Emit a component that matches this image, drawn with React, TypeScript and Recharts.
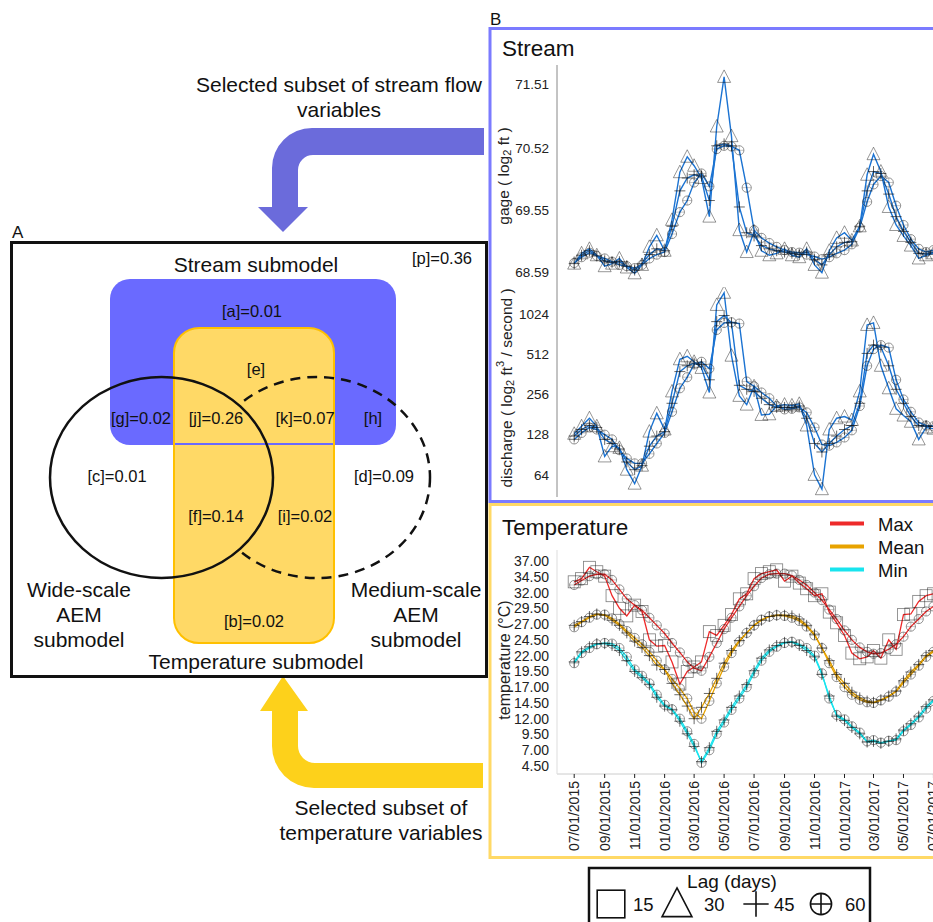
import React from "react";
import { ComposedChart, Line, XAxis, YAxis } from "recharts";

const FONT = '"Liberation Sans", Arial, Helvetica, sans-serif';

// semi-monthly sampling dates
const sampleDates = [
  "07/01/2015", "07/16/2015", "08/01/2015", "08/16/2015", "09/01/2015", "09/16/2015",
  "10/01/2015", "10/16/2015", "11/01/2015", "11/16/2015", "12/01/2015", "12/16/2015",
  "01/01/2016", "01/16/2016", "02/01/2016", "02/16/2016", "03/01/2016", "03/16/2016",
  "04/01/2016", "04/16/2016", "05/01/2016", "05/16/2016", "06/01/2016", "06/16/2016",
  "07/01/2016", "07/16/2016", "08/01/2016", "08/16/2016", "09/01/2016", "09/16/2016",
  "10/01/2016", "10/16/2016", "11/01/2016", "11/16/2016", "12/01/2016", "12/16/2016",
  "01/01/2017", "01/16/2017", "02/01/2017", "02/16/2017", "03/01/2017", "03/16/2017",
  "04/01/2017", "04/16/2017", "05/01/2017", "05/16/2017", "06/01/2017", "06/16/2017",
  "07/01/2017",
];

const dateTicks = [
  "07/01/2015", "09/01/2015", "11/01/2015", "01/01/2016", "03/01/2016", "05/01/2016",
  "07/01/2016", "09/01/2016", "11/01/2016", "01/01/2017", "03/01/2017", "05/01/2017",
  "07/01/2017",
];

// gage (log2 ft)
const gageLag30 = [
  68.72, 68.88, 68.95, 68.85, 68.68, 68.72, 68.8, 68.66, 68.57, 68.7, 68.98, 69.16,
  68.92, 69.4, 70.14, 70.38, 70.24, 70.05, 69.45, 70.85, 71.62, 70.7, 69.24, 68.9,
  69.22, 68.92, 68.85, 68.88, 68.95, 68.85, 68.82, 68.95, 68.7, 68.58, 68.92, 69.12,
  69.2, 69.08, 69.3, 70.1, 70.42, 70.15, 69.6, 69.32, 69.15, 69.0, 68.8, 68.85, 68.88,
];
const gageLag45 = [
  68.72, 68.85, 68.92, 68.84, 68.76, 68.74, 68.75, 68.68, 68.62, 68.72, 68.86, 68.95,
  68.92, 69.3, 69.85, 70.05, 70.1, 70.08, 69.7, 70.55, 70.58, 70.55, 69.6, 69.2,
  69.15, 69.0, 68.95, 68.92, 68.9, 68.88, 68.86, 68.9, 68.78, 68.7, 68.86, 68.98,
  69.05, 69.06, 69.3, 69.85, 70.15, 70.12, 69.8, 69.45, 69.22, 69.05, 68.88, 68.87, 68.9,
];
const gageLag60 = [
  68.73, 68.82, 68.89, 68.84, 68.8, 68.75, 68.7, 68.68, 68.65, 68.7, 68.8, 68.86,
  68.9, 69.18, 69.52, 69.7, 69.98, 70.12, 69.92, 70.5, 70.55, 70.54, 70.48, 69.9,
  69.24, 69.12, 69.04, 68.98, 68.93, 68.9, 68.89, 68.86, 68.83, 68.79, 68.82, 68.88,
  68.93, 69.02, 69.28, 69.68, 69.95, 70.08, 69.98, 69.62, 69.32, 69.1, 68.95, 68.9, 68.93,
];

// discharge (ft3 / second, log2 axis)
const dischargeLag30 = [
  130, 148, 170, 148, 88, 105, 102, 70, 55, 75, 135, 185,
  140, 270, 470, 495, 450, 405, 265, 1200, 1480, 500, 250, 215,
  295, 180, 182, 210, 215, 212, 218, 150, 64, 50, 140, 170,
  175, 165, 270, 850, 880, 420, 285, 200, 178, 160, 118, 145, 142,
];
const dischargeLag45 = [
  125, 140, 150, 145, 118, 110, 100, 80, 70, 75, 105, 125,
  135, 220, 380, 420, 440, 430, 330, 900, 1000, 880, 300, 280,
  270, 240, 215, 205, 205, 205, 210, 170, 110, 95, 110, 125,
  140, 150, 220, 520, 600, 580, 420, 280, 220, 175, 150, 148, 148,
];
const dischargeLag60 = [
  118, 132, 145, 140, 128, 118, 98, 85, 78, 78, 92, 110,
  132, 190, 285, 345, 430, 450, 400, 780, 880, 890, 870, 320,
  295, 265, 240, 210, 198, 200, 205, 188, 145, 108, 106, 112,
  122, 138, 210, 420, 560, 600, 575, 330, 235, 190, 158, 150, 148,
];

// temperature (°C)
const maxLag15 = [
  33.7, 34.2, 36.0, 35.3, 34.6, 31.5, 29.5, 28.3, 30.0, 29.0, 24.5, 23.5,
  23.6, 21.0, 17.5, 19.5, 20.2, 21.0, 25.8, 25.2, 26.8, 28.5, 31.0, 31.8,
  34.2, 35.0, 35.3, 35.6, 33.8, 34.6, 33.5, 32.6, 31.5, 31.8, 28.9, 27.2,
  25.2, 22.4, 21.5, 21.8, 22.8, 21.6, 24.5, 23.0, 28.5, 28.6, 30.6, 31.5, 31.8,
];
const maxLag60 = [
  33.2, 33.9, 34.6, 34.9, 34.9, 34.0, 32.5, 31.0, 30.0, 29.2, 28.0, 26.8,
  25.5, 24.0, 22.5, 21.0, 20.0, 19.6, 21.8, 24.0, 26.2, 28.0, 29.8, 31.5,
  33.0, 34.3, 34.9, 35.0, 35.0, 34.7, 34.0, 33.2, 32.0, 30.8, 29.3, 27.8,
  26.0, 24.5, 23.3, 22.6, 22.3, 22.4, 23.0, 23.8, 25.0, 26.6, 27.8, 29.0, 29.8,
];
const meanLag45 = [
  26.8, 27.4, 28.2, 28.6, 28.4, 27.6, 26.8, 25.6, 24.3, 23.3, 22.0, 20.5,
  19.8, 17.6, 15.8, 14.0, 12.0, 13.8, 16.0, 18.4, 20.8, 22.8, 24.4, 25.6,
  26.8, 27.6, 28.2, 28.4, 28.4, 28.3, 27.8, 26.8, 25.4, 23.2, 21.2, 19.0,
  17.6, 16.2, 15.3, 14.8, 14.6, 15.0, 15.6, 16.4, 18.0, 19.4, 20.6, 22.0, 22.8,
];
const meanLag60 = [
  26.5, 27.3, 28.0, 28.5, 28.5, 27.9, 27.0, 25.9, 24.8, 23.8, 22.6, 21.2,
  19.8, 18.3, 16.8, 15.2, 13.0, 12.0, 14.8, 17.6, 20.2, 22.4, 24.2, 25.6,
  26.8, 27.7, 28.2, 28.4, 28.3, 28.0, 27.5, 26.6, 25.2, 23.2, 20.8, 18.6,
  17.0, 15.8, 15.0, 14.6, 14.5, 14.9, 15.5, 16.3, 17.7, 19.0, 20.4, 21.8, 22.6,
];
const minLag45 = [
  21.0, 22.6, 23.4, 23.9, 23.9, 23.6, 22.8, 21.2, 19.5, 18.5, 17.4, 15.4,
  14.0, 13.4, 11.6, 9.6, 7.6, 5.2, 7.4, 10.0, 11.8, 13.8, 15.6, 17.4,
  19.6, 21.6, 22.9, 23.6, 24.1, 24.1, 23.6, 22.8, 21.8, 19.0, 15.6, 12.4,
  11.7, 10.6, 9.6, 8.3, 8.4, 8.1, 8.4, 8.8, 10.2, 11.2, 12.4, 13.9, 15.0,
];
const minLag60 = [
  20.8, 22.4, 23.2, 23.8, 24.0, 23.9, 23.2, 21.8, 19.8, 18.8, 17.6, 15.8,
  14.2, 13.5, 12.0, 10.0, 8.0, 5.0, 7.0, 9.6, 11.4, 13.4, 15.2, 17.0,
  19.2, 21.2, 22.6, 23.4, 24.0, 24.2, 23.8, 23.2, 22.0, 19.2, 15.2, 12.6,
  11.9, 10.8, 9.8, 8.4, 8.6, 8.2, 8.5, 8.6, 10.0, 11.0, 12.2, 13.6, 14.8,
];

const gageTicks = [68.59, 69.55, 70.52, 71.51];
const dischargeTicks = [64, 128, 256, 512, 1024];
const tempTicks = [4.5, 7, 9.5, 12, 14.5, 17, 19.5, 22, 24.5, 27, 29.5, 32, 34.5, 37];

// variance partition (panel A)
const partNames = ["a", "b", "c", "d", "e", "f", "g", "h", "i", "j", "k", "p"];
const partValues = [0.01, 0.02, 0.01, 0.09, null, 0.14, 0.02, null, 0.02, 0.26, 0.07, 0.36];

const lagDays = [15, 30, 45, 60];
const tempGroups = ["Max", "Mean", "Min"];

const DAY = 86400000;
const parseDate = (s: string) => {
  const [m, d, y] = s.split("/").map(Number);
  return Date.UTC(y, m - 1, d);
};
const origin = parseDate(sampleDates[0]);
const toDay = (s: string) => Math.round((parseDate(s) - origin) / DAY);

const streamRows = sampleDates.map((d, i) => ({
  day: toDay(d),
  g30: gageLag30[i], g45: gageLag45[i], g60: gageLag60[i],
  q30: dischargeLag30[i], q45: dischargeLag45[i], q60: dischargeLag60[i],
}));
const tempRows = sampleDates.map((d, i) => ({
  day: toDay(d),
  max15: maxLag15[i], max60: maxLag60[i],
  mean45: meanLag45[i], mean60: meanLag60[i],
  min45: minLag45[i], min60: minLag60[i],
}));
const tickDays = dateTicks.map(toDay);
const xDomain = [-35, 785];

const BLUE = "#1b73d2";
const RED = "#ee2a2a";
const ORANGE = "#e8a300";
const CYAN = "#18e4ee";

type Kind = "square" | "triangle" | "plus" | "circle";

function Marker({ cx, cy, kind, big }: { cx: number; cy: number; kind: Kind; big?: boolean }) {
  if (cx == null || cy == null) return null;
  const k = big ? 2.3 : 1;
  const st = { fill: "none", stroke: "#111", strokeOpacity: big ? 1 : 0.55, strokeWidth: big ? 1.6 : 0.8 };
  if (kind === "square")
    return <rect x={cx - 6 * k} y={cy - 6 * k} width={12 * k} height={12 * k} {...st} />;
  if (kind === "triangle")
    return <path d={`M${cx},${cy - 7 * k}L${cx + 6.5 * k},${cy + 5.5 * k}L${cx - 6.5 * k},${cy + 5.5 * k}Z`} {...st} />;
  if (kind === "plus")
    return <path d={`M${cx - 5.5 * k},${cy}H${cx + 5.5 * k}M${cx},${cy - 5.5 * k}V${cy + 5.5 * k}`} {...st} strokeOpacity={big ? 1 : 0.8} />;
  return (
    <g {...st}>
      <circle cx={cx} cy={cy} r={4.6 * k} />
      <path d={`M${cx - 4.6 * k},${cy}H${cx + 4.6 * k}M${cx},${cy - 4.6 * k}V${cy + 4.6 * k}`} strokeOpacity={big ? 1 : 0.3} />
    </g>
  );
}

const markerDot = (kind: Kind) => (p: any) => (
  <Marker key={`${kind}-${p.index}`} cx={p.cx} cy={p.cy} kind={kind} />
);

const DateTick = (props: any) => {
  const { x, y, payload } = props;
  const idx = tickDays.indexOf(payload.value);
  const ty = y + 1;
  return (
    <text
      x={x}
      y={ty}
      transform={`rotate(-90 ${x} ${ty})`}
      textAnchor="end"
      dominantBaseline="central"
      fontSize={14}
      fontFamily={FONT}
      fill="#222"
    >
      {dateTicks[idx]}
    </text>
  );
};

const tickStyle = { fontSize: 13.5, fill: "#222", fontFamily: FONT };

const partLabel = (n: string) => {
  const v = partValues[partNames.indexOf(n)];
  return v == null ? `[${n}]` : `[${n}]=${v.toFixed(2)}`;
};

const partPos: Record<string, [number, number]> = {
  a: [252, 317], e: [256, 375], g: [141, 424], j: [216, 424], k: [305, 424], h: [373, 424],
  c: [117, 482], d: [384, 482], f: [216, 522], i: [305, 522], b: [254, 627], p: [442, 264],
};

export default function App() {
  const lagKinds: Kind[] = ["square", "triangle", "plus", "circle"];
  const groupColors = [RED, ORANGE, CYAN];
  return (
    <div
      style={{
        position: "absolute", left: 0, top: 0, width: 933, height: 922,
        overflow: "hidden", background: "#fff", fontFamily: FONT,
      }}
    >
      <svg width={933} height={922} style={{ position: "absolute", left: 0, top: 0 }} fontFamily={FONT}>
        <defs>
          <mask id="outsideWide">
            <rect x={0} y={0} width={933} height={922} fill="white" />
            <ellipse cx={161.5} cy={477.5} rx={111.5} ry={100.5} fill="black" />
          </mask>
        </defs>

        {/* arrows */}
        <path
          d="M484,128 L312,128 A40,40 0 0 0 272,168 L272,207 L258,207 L283,232 L308,207 L298,207 L298,170 A15,15 0 0 1 313,155 L484,155 Z"
          fill="#6b6bdb"
        />
        <text x={339} y={92} fontSize={21} textAnchor="middle" fill="#111">Selected subset of stream flow</text>
        <text x={339} y={117} fontSize={21} textAnchor="middle" fill="#111">variables</text>

        <path
          d="M283,676 L308,711 L298,711 L298,746 A17,17 0 0 0 315,763 L483,763 L483,788 L314,788 A42,42 0 0 1 272,746 L272,711 L260,711 Z"
          fill="#fdd11b"
        />
        <text x={381} y={815} fontSize={21} textAnchor="middle" fill="#111">Selected subset of</text>
        <text x={381} y={840} fontSize={21} textAnchor="middle" fill="#111">temperature variables</text>

        {/* panel A */}
        <text x={12} y={238} fontSize={17} fill="#111">A</text>
        <rect x={11.5} y={242.5} width={475} height={434} fill="#fff" stroke="#111" strokeWidth={3} />
        <text x={256} y={272} fontSize={21} textAnchor="middle" fill="#111">Stream submodel</text>
        <rect x={110} y={279} width={286} height={166} rx={20} fill="#6a6aff" />
        <rect x={174} y={328} width={160} height={315} rx={25} fill="#ffd966" stroke="#ffc000" strokeWidth={2} />
        <line x1={175} y1={444} x2={333} y2={444} stroke="#6a6aff" strokeWidth={2} />
        <ellipse cx={161.5} cy={477.5} rx={111.5} ry={100.5} fill="none" stroke="#111" strokeWidth={2.5} />
        <ellipse
          cx={317} cy={477.5} rx={113} ry={100.5} fill="none" stroke="#111" strokeWidth={2.5}
          strokeDasharray="10 7" mask="url(#outsideWide)"
        />
        {partNames.map((n) => (
          <text key={n} x={partPos[n][0]} y={partPos[n][1]} fontSize={16.5} textAnchor="middle" fill="#111">
            {partLabel(n)}
          </text>
        ))}
        {["Wide-scale", "AEM", "submodel"].map((t, i) => (
          <text key={t} x={79} y={597 + i * 25} fontSize={21} textAnchor="middle" fill="#111">{t}</text>
        ))}
        {["Medium-scale", "AEM", "submodel"].map((t, i) => (
          <text key={t} x={416} y={597 + i * 25} fontSize={21} textAnchor="middle" fill="#111">{t}</text>
        ))}
        <text x={256} y={669} fontSize={21} textAnchor="middle" fill="#111">Temperature submodel</text>

        {/* panel B frames */}
        <text x={490} y={25} fontSize={17} fill="#111">B</text>
        <rect x={490} y={28.5} width={470} height={473} fill="none" stroke="#7b7bff" strokeWidth={3} />
        <rect x={490} y={504.5} width={470} height={353} fill="none" stroke="#ffd966" strokeWidth={3} />
        <text x={502} y={56} fontSize={22.5} fill="#111">Stream</text>
        <text x={502} y={535} fontSize={22.5} fill="#111">Temperature</text>

        <text x={503} y={176} transform="rotate(-90 503 176)" textAnchor="middle" fontSize={15.5} fill="#222" dominantBaseline="central">
          gage ( log<tspan dy={4} fontSize={11}>2</tspan><tspan dy={-4}> ft )</tspan>
        </text>
        <text x={506} y={388} transform="rotate(-90 506 388)" textAnchor="middle" fontSize={15.5} fill="#222" dominantBaseline="central">
          discharge ( log<tspan dy={4} fontSize={11}>2</tspan><tspan dy={-4}> ft</tspan>
          <tspan dy={-6} fontSize={11}>3</tspan><tspan dy={6}> / second )</tspan>
        </text>
        <text x={504} y={660} transform="rotate(-90 504 660)" textAnchor="middle" fontSize={16} fill="#222" dominantBaseline="central">
          temperature (°C)
        </text>

        {/* temperature group legend */}
        {tempGroups.map((g, i) => (
          <g key={g}>
            <line x1={830} x2={864} y1={523.5 + i * 23} y2={523.5 + i * 23} stroke={groupColors[i]} strokeWidth={4} />
            <text x={878} y={531 + i * 23} fontSize={18.5} fill="#111">{g}</text>
          </g>
        ))}

        {/* lag legend */}
        <rect x={589} y={868} width={281} height={80} fill="#fff" stroke="#111" strokeWidth={2.5} />
        <text x={732} y={888} fontSize={19} textAnchor="middle" fill="#111">Lag (days)</text>
        {lagDays.map((d, i) => {
          const mx = [611, 677, 756, 821][i];
          const tx = [633, 704, 774, 845][i];
          return (
            <g key={d}>
              <Marker cx={mx} cy={904} kind={lagKinds[i]} big />
              <text x={tx} y={911} fontSize={18.5} fill="#111">{d}</text>
            </g>
          );
        })}
      </svg>

      {/* gage */}
      <div style={{ position: "absolute", left: 490, top: 60 }}>
        <ComposedChart width={470} height={227} data={streamRows} margin={{ top: 5, right: 0, bottom: 0, left: 0 }}>
          <XAxis type="number" dataKey="day" domain={xDomain} hide />
          <YAxis
            type="number" domain={[68.357, 71.805]} ticks={gageTicks} interval={0}
            tickFormatter={(v: number) => v.toFixed(2)} width={67} tickLine={false}
            axisLine={{ stroke: "#888" }} tick={tickStyle}
          />
          <Line dataKey="g60" stroke={BLUE} strokeWidth={1.4} dot={markerDot("circle")} activeDot={false} isAnimationActive={false} />
          <Line dataKey="g45" stroke={BLUE} strokeWidth={1.4} dot={markerDot("plus")} activeDot={false} isAnimationActive={false} />
          <Line dataKey="g30" stroke={BLUE} strokeWidth={1.4} dot={markerDot("triangle")} activeDot={false} isAnimationActive={false} />
        </ComposedChart>
      </div>

      {/* discharge */}
      <div style={{ position: "absolute", left: 490, top: 287 }}>
        <ComposedChart width={470} height={210} data={streamRows} margin={{ top: 0, right: 0, bottom: 0, left: 0 }}>
          <XAxis type="number" dataKey="day" domain={xDomain} hide />
          <YAxis
            type="number" scale="log" domain={[43.7, 1635]} ticks={dischargeTicks} interval={0}
            width={67} tickLine={false} axisLine={{ stroke: "#888" }} tick={tickStyle}
          />
          <Line dataKey="q60" stroke={BLUE} strokeWidth={1.4} dot={markerDot("circle")} activeDot={false} isAnimationActive={false} />
          <Line dataKey="q45" stroke={BLUE} strokeWidth={1.4} dot={markerDot("plus")} activeDot={false} isAnimationActive={false} />
          <Line dataKey="q30" stroke={BLUE} strokeWidth={1.4} dot={markerDot("triangle")} activeDot={false} isAnimationActive={false} />
        </ComposedChart>
      </div>

      {/* temperature */}
      <div style={{ position: "absolute", left: 490, top: 545 }}>
        <ComposedChart width={470} height={309} data={tempRows} margin={{ top: 5, right: 0, bottom: 0, left: 0 }}>
          <XAxis
            type="number" dataKey="day" domain={xDomain} ticks={tickDays} interval={0} height={80}
            axisLine={{ stroke: "#ccc" }} tickLine={{ stroke: "#222" }} tickSize={4} tick={<DateTick />}
          />
          <YAxis
            type="number" domain={[3.232, 38.744]} ticks={tempTicks} interval={0}
            tickFormatter={(v: number) => v.toFixed(2)} width={67} tickLine={false}
            axisLine={{ stroke: "#ddd" }} tick={{ ...tickStyle, fontSize: 14 }}
          />
          <Line dataKey="max60" stroke={RED} strokeWidth={1.3} dot={markerDot("circle")} activeDot={false} isAnimationActive={false} />
          <Line dataKey="max15" stroke={RED} strokeWidth={1.3} dot={markerDot("square")} activeDot={false} isAnimationActive={false} />
          <Line dataKey="mean60" stroke={ORANGE} strokeWidth={1.3} dot={markerDot("circle")} activeDot={false} isAnimationActive={false} />
          <Line dataKey="mean45" stroke={ORANGE} strokeWidth={1.3} dot={markerDot("plus")} activeDot={false} isAnimationActive={false} />
          <Line dataKey="min60" stroke={CYAN} strokeWidth={1.3} dot={markerDot("circle")} activeDot={false} isAnimationActive={false} />
          <Line dataKey="min45" stroke={CYAN} strokeWidth={1.3} dot={markerDot("plus")} activeDot={false} isAnimationActive={false} />
        </ComposedChart>
      </div>
    </div>
  );
}
